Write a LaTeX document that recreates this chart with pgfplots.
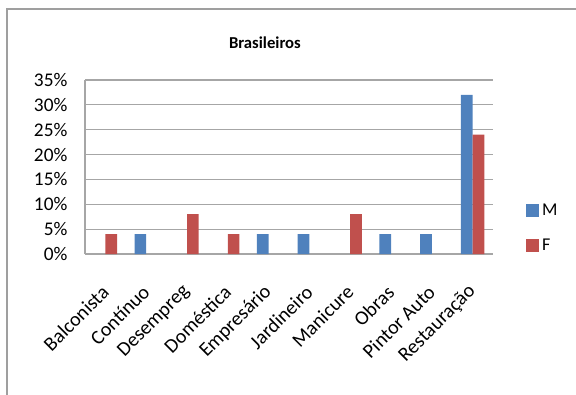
\documentclass[border=0pt]{standalone}
\usepackage{pgfplots}
\pgfplotsset{compat=1.18}
\usepackage{fontspec}
\setmainfont{Carlito}
\definecolor{mblue}{HTML}{4F81BD}
\definecolor{fred}{HTML}{C0504D}
\definecolor{gridg}{HTML}{A6A6A6}
\begin{document}
\begin{tikzpicture}
\useasboundingbox (0,0) rectangle (432pt,295.5pt);
\draw[gray!75, line width=1.2pt] (5.25pt,-10pt) -- (5.25pt,288.75pt) -- (450pt,288.75pt);
\begin{axis}[
  at={(63.75pt,105pt)}, anchor=south west,
  scale only axis, width=306pt, height=130.5pt,
  ybar=0pt, bar width=8.75pt,
  xmin=-0.5, xmax=9.5, ymin=0, ymax=35,
  xtick={0,1,2,3,4,5,6,7,8,9},
  xticklabels={Balconista,Contínuo,Desempreg,Doméstica,Empresário,Jardineiro,Manicure,Obras,Pintor Auto,Restauração},
  ytick={0,5,10,15,20,25,30,35},
  yticklabels={0\%,5\%,10\%,15\%,20\%,25\%,30\%,35\%},
  axis x line*=bottom, axis y line*=left,
  axis line style={gridg, line width=0.9pt, -},
  major tick length=0pt,
  ymajorgrids, grid style={gridg, line width=0.9pt},
  yticklabel style={font=\fontsize{14.5}{16}\selectfont, anchor=east, inner sep=0pt, xshift=-13pt},
  xticklabel style={font=\fontsize{15}{17}\selectfont, yshift=-26pt, xshift=0pt, rotate=45, anchor=east, inner sep=0pt},
  title={\bfseries Brasileiros},
  title style={font=\fontsize{12.5}{14}\selectfont, at={(0.441,1.17)}, anchor=center},
  legend style={draw=none, fill=none, at={(1.081,0.149)}, anchor=west, font=\fontsize{13.5}{15}\selectfont, row sep=12pt, inner sep=0pt},
  legend cell align=left,
  legend image code/.code={\fill[#1] (0pt,-4.9pt) rectangle (9.8pt,4.9pt);},
]
\addplot[fill=mblue, draw=none] coordinates {(1,4) (4,4) (5,4) (7,4) (8,4) (9,32)};
\addplot[fill=fred, draw=none] coordinates {(0,4) (2,8) (3,4) (6,8) (9,24)};
\legend{M,F}
\end{axis}
\end{tikzpicture}
\end{document}
